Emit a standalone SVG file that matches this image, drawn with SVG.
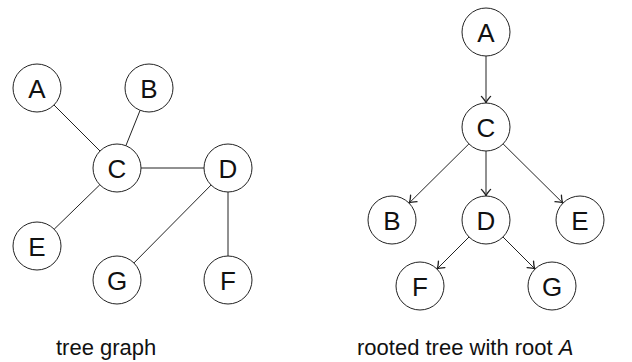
<svg xmlns="http://www.w3.org/2000/svg" width="632" height="362" viewBox="0 0 632 362">
<defs>
<style>
.n circle{fill:#fff;stroke:#222;stroke-width:1}
.n text{font-family:"Liberation Sans",Arial,sans-serif;font-size:26px;text-anchor:middle;fill:#111}
.e line{stroke:#222;stroke-width:1;fill:none}
.a line{stroke:#222;stroke-width:1;fill:none;marker-end:url(#arr)}
.cap{font-family:"Liberation Sans",Arial,sans-serif;font-size:22px;fill:#111}
</style>
<marker id="arr" markerUnits="userSpaceOnUse" markerWidth="12" markerHeight="12" viewBox="-7 -5 8 10" refX="0" refY="0" orient="auto">
<path d="M-5.5,-3.8 Q-2,-0.6 0,0 Q-2,0.6 -5.5,3.8" fill="none" stroke="#222" stroke-width="1.1" stroke-linecap="round"/>
</marker>
</defs>
<g id="left-edges" class="e">
<line x1="54" y1="105" x2="100" y2="151"/>
<line x1="140.1" y1="110.3" x2="125.9" y2="145.7"/>
<line x1="141" y1="168" x2="204" y2="168"/>
<line x1="99.8" y1="184.8" x2="54.2" y2="229.2"/>
<line x1="211.1" y1="185" x2="133.9" y2="263"/>
<line x1="228" y1="192" x2="228" y2="256"/>
</g>
<g id="L-A" class="n"><circle cx="37" cy="88" r="24"/><text x="37" y="97.5">A</text></g>
<g id="L-B" class="n"><circle cx="149" cy="88" r="24"/><text x="149" y="97.5">B</text></g>
<g id="L-C" class="n"><circle cx="117" cy="168" r="24"/><text x="117" y="177.5">C</text></g>
<g id="L-D" class="n"><circle cx="228" cy="168" r="24"/><text x="228" y="177.5">D</text></g>
<g id="L-E" class="n"><circle cx="37" cy="246" r="24"/><text x="37" y="255.5">E</text></g>
<g id="L-G" class="n"><circle cx="117" cy="280" r="24"/><text x="117" y="289.5">G</text></g>
<g id="L-F" class="n"><circle cx="228" cy="280" r="24"/><text x="228" y="289.5">F</text></g>
<g id="right-edges" class="a">
<line x1="486" y1="56" x2="486" y2="103"/>
<line x1="468.9" y1="143.9" x2="409.1" y2="203.1"/>
<line x1="486" y1="151" x2="486" y2="196"/>
<line x1="503.1" y1="143.9" x2="562.9" y2="203.1"/>
<line x1="469" y1="237" x2="437" y2="269"/>
<line x1="503" y1="237" x2="535" y2="269"/>
</g>
<g id="R-A" class="n"><circle cx="486" cy="32" r="24"/><text x="486" y="41.5">A</text></g>
<g id="R-C" class="n"><circle cx="486" cy="127" r="24"/><text x="486" y="136.5">C</text></g>
<g id="R-B" class="n"><circle cx="392" cy="220" r="24"/><text x="392" y="229.5">B</text></g>
<g id="R-D" class="n"><circle cx="486" cy="220" r="24"/><text x="486" y="229.5">D</text></g>
<g id="R-E" class="n"><circle cx="580" cy="220" r="24"/><text x="580" y="229.5">E</text></g>
<g id="R-F" class="n"><circle cx="420" cy="286" r="24"/><text x="420" y="295.5">F</text></g>
<g id="R-G" class="n"><circle cx="552" cy="286" r="24"/><text x="552" y="295.5">G</text></g>
<text class="cap" x="56" y="355">tree graph</text>
<text class="cap" x="357" y="355">rooted tree with root <tspan font-style="italic">A</tspan></text>
</svg>
